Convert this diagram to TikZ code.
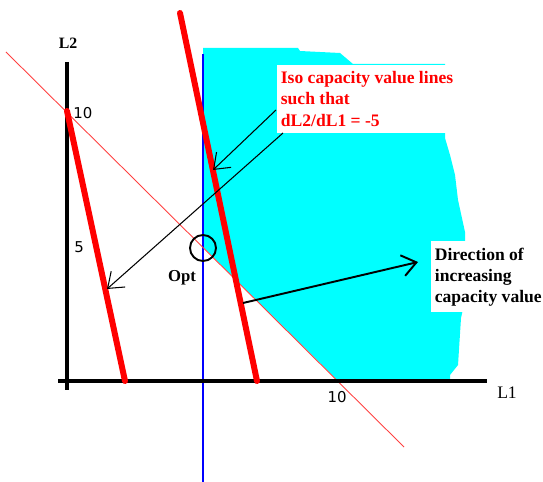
\documentclass[tikz,border=0pt]{standalone}
\usepackage{fontspec}
\setmainfont{Liberation Serif}
\newfontfamily\tickfont{DejaVu Sans}
\usetikzlibrary{arrows.meta}

\definecolor{regioncyan}{RGB}{0,255,255}
\definecolor{isored}{RGB}{255,0,0}
\definecolor{limitblue}{RGB}{0,0,255}

\tikzset{
    isoline/.style={isored, line width=3.4pt, line cap=round},
    axisline/.style={line width=2.6pt},
    ticklabel/.style={font=\tickfont\fontsize{8.5}{10}\selectfont, inner sep=0pt},
    notelabel/.style={font=\bfseries\fontsize{10}{12}\selectfont, align=left, fill=white,
        anchor=north west, inner xsep=2pt, inner ysep=3.6pt},
}

\begin{document}
\begin{tikzpicture}[x=0.02cm, y=-0.02cm, >={Straight Barb[length=8pt,width=12pt]}]

            \useasboundingbox (0,0) rectangle (543,482);

            % feasible region
            \fill[regioncyan] (203,48) -- (298,48) -- (300,51) -- (340,53) -- (353,64)
                -- (445,64) -- (445,138) -- (450,155) -- (455,175) -- (458,200)
                -- (465,232) -- (465,300) -- (461,318) -- (458,365) -- (450,375)
                -- (450,381) -- (338,381) -- (203,247) -- cycle;

            % constraints L1 >= 5 and L1 + L2 >= 10
            \draw[limitblue, line width=0.6pt] (203,54) -- (203,482);
            \draw[isored!75, line width=0.5pt] (6,52) -- (404,447);

            % axes
            \coordinate (O) at (67,381);
            \draw[axisline] (67,62) -- (67,390);
            \draw[axisline] (58,381) -- (487,381);
            \node[font=\bfseries\fontsize{9}{10}\selectfont] (l2) at (68,43) {L2};
            \node[font=\fontsize{10}{11}\selectfont] (l1) at (507,393) {L1};
            \node[ticklabel] (y10) at (83,113) {10};
            \node[ticklabel] (y5) at (79,247) {5};
            \node[ticklabel] (x10) at (337,397) {10};

            % iso capacity lines
            \coordinate (a1) at (67,111);
            \coordinate (a2) at (125,381);
            \coordinate (b1) at (180,13);
            \coordinate (b2) at (257,381);
            \draw[isoline] (a1) -- (a2);
            \draw[isoline] (b1) -- (b2);

            % optimum
            \node[draw, circle, line width=1.1pt, minimum size=26*0.02cm, inner sep=0pt] (opt) at (203,248) {};
            \node[font=\bfseries\fontsize{9.5}{11}\selectfont] (optlabel) at (182,278) {Opt};

            % notes
            \node[notelabel, text=isored] (iso) at (277,65)
                {Iso capacity value lines\\such that\\dL2/dL1 = -5};
            \node[notelabel] (dir) at (431,241)
                {Direction of\\increasing\\capacity value};

            \coordinate (isoA) at (276,110);
            \coordinate (isoB) at (283,133);
            \coordinate (tipA) at (213,170);
            \coordinate (tipB) at (107,289);
            \coordinate (dirA) at (243,303);
            \coordinate (tipC) at (418,262);
            \draw[->, line width=0.6pt] (isoA) -- (tipA);
            \draw[->, line width=0.6pt] (isoB) -- (tipB);
            \draw[->, line width=1.1pt] (dirA) -- (tipC);

        \end{tikzpicture}
\end{document}
